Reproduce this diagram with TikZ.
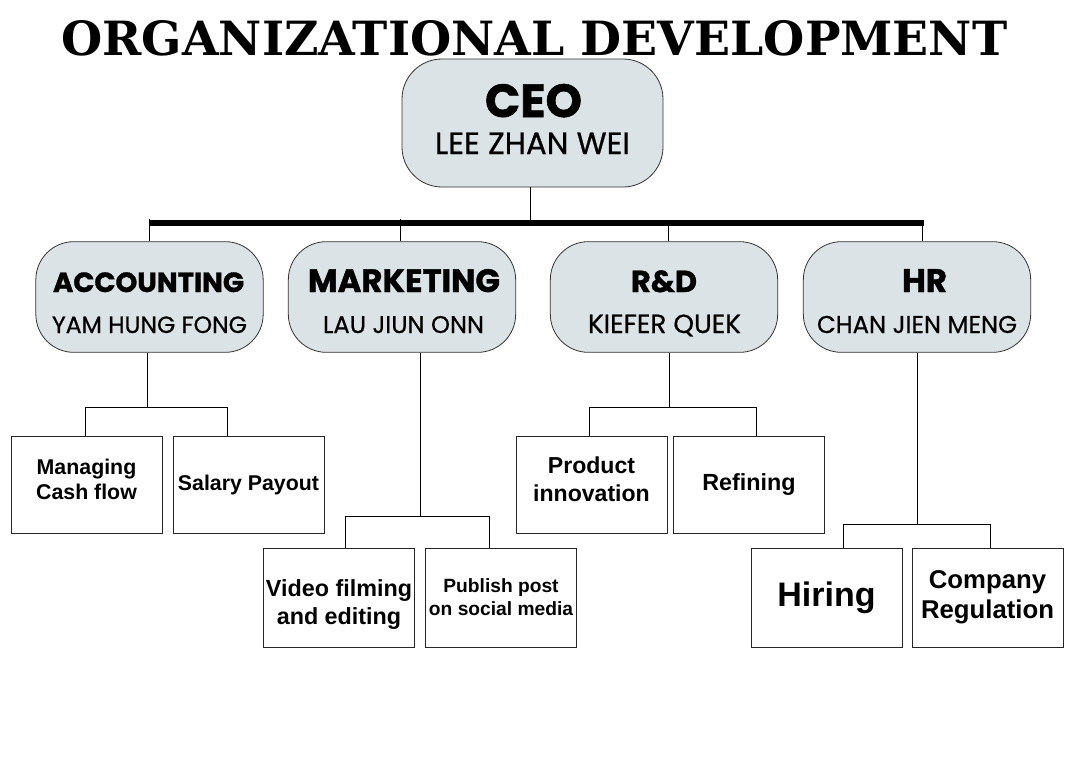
\documentclass[tikz,border=0pt]{standalone}
\usepackage{fontspec}
\usepackage{graphicx}
\newfontfamily\popfont[BoldFeatures={FakeBold=1.2}]{Poppins}
\newfontfamily\popmed[FakeBold=0.6]{Poppins}
\newfontfamily\subfont{Liberation Sans}
\newfontfamily\ttlfont{DejaVu Serif}
\definecolor{boxfill}{HTML}{DCE3E6}
\begin{document}
\begin{tikzpicture}[x=0.75pt,y=-0.75pt,
  head/.style={draw=black!80, line width=0.6pt, fill=boxfill, rounded corners=28.5pt,
    minimum width=170.5pt, minimum height=83pt, inner sep=0pt},
  ceobox/.style={head, minimum width=195.75pt, minimum height=96pt, rounded corners=30pt},
  task/.style={draw=black!85, line width=0.6pt, minimum width=113.25pt, minimum height=72.75pt,
    inner sep=0pt, align=center},
  task2/.style={task, minimum height=74.25pt},
  txt/.style={inner sep=0pt, anchor=base},
  link/.style={line width=0.75pt, black}]
\useasboundingbox (0,0) rectangle (1080,771);
\fill[white] (0,0) rectangle (1080,771);

% title
\node[inner sep=0pt, anchor=base west] (title) at (61,55)
  {\resizebox{709.5pt}{26.25pt}{\ttlfont\bfseries ORGANIZATIONAL DEVELOPMENT}};

% CEO
\node[ceobox] (ceo) at (532.5,123) {};
\node[txt] (ceot) at (533.5,117) {\resizebox{72.75pt}{!}{\popfont\bfseries CEO}};
\node[txt] (ceon) at (532.5,154) {\resizebox{146.25pt}{!}{\popmed LEE ZHAN WEI}};

% departments
\node[head] (acc) at (149.5,297) {};
\node[txt] (acct) at (148.5,292) {\resizebox{143.25pt}{!}{\popfont\bfseries ACCOUNTING}};
\node[txt] (accn) at (149.5,333) {\resizebox{146.25pt}{!}{\popmed YAM HUNG FONG}};

\node[head] (mkt) at (402,297) {};
\node[txt] (mktt) at (404,292) {\resizebox{144pt}{!}{\popfont\bfseries MARKETING}};
\node[txt] (mktn) at (403.5,333) {\resizebox{120.75pt}{!}{\popmed LAU JIUN ONN}};

\node[head] (rd) at (664,297) {};
\node[txt] (rdt) at (664,292) {\resizebox{49.5pt}{!}{\popfont\bfseries R\&D}};
\node[txt] (rdn) at (664.5,333) {\resizebox{114.75pt}{!}{\popmed KIEFER QUEK}};

\node[head] (hr) at (917,297) {};
\node[txt] (hrt) at (924.5,292) {\resizebox{33.75pt}{!}{\popfont\bfseries HR}};
\node[txt] (hrn) at (917,333) {\resizebox{150pt}{!}{\popmed CHAN JIEN MENG}};

% bar and top links
\coordinate (barL) at (149,223);
\coordinate (barR) at (924,223);
\draw[line width=4.5pt] (barL) -- (barR);
\coordinate (ceoJ) at (530,220);
\draw[link] (ceoJ |- ceo.south) -- (ceoJ);
\coordinate (accT) at (149,219);
\coordinate (mktT) at (400,219);
\coordinate (rdT) at (668,222);
\coordinate (hrT) at (922,222);
\draw[link] (accT) -- (accT |- acc.north);
\draw[link] (mktT) -- (mktT |- mkt.north);
\draw[link] (rdT) -- (rdT |- rd.north);
\draw[link] (hrT) -- (hrT |- hr.north);

% task boxes
\node[task, font=\subfont\bfseries\fontsize{16}{18.75}\selectfont] (mcf) at (86.5,484.5)
  {Managing\\Cash flow\vphantom{g}\\[-16.5pt]\strut};
\node[task, font=\subfont\bfseries\fontsize{16}{18}\selectfont] (sal) at (248.5,484.5)
  {Salary Payout};
\node[task, font=\subfont\bfseries\fontsize{17.3}{21}\selectfont] (pin) at (591.5,484.5)
  {Product\\innovation\\[-19pt]\strut};
\node[task, font=\subfont\bfseries\fontsize{17.5}{21}\selectfont] (ref) at (749,484.5)
  {Refining};
\node[task2, font=\subfont\bfseries\fontsize{17.5}{21}\selectfont] (vid) at (339,597.5)
  {\strut\\[-12pt]Video filming\\and editing};
\node[task2, font=\subfont\bfseries\fontsize{14.4}{17.25}\selectfont] (pub) at (501,597.5)
  {Publish post\\on social media};
\node[task2, font=\subfont\bfseries\fontsize{25.5}{30}\selectfont] (hir) at (826.5,597.5)
  {Hiring};
\node[task2, font=\subfont\bfseries\fontsize{19.3}{22.5}\selectfont] (com) at (987.5,597.5)
  {Company\\Regulation};

% accounting links
\coordinate (accJ) at (147,407);
\coordinate (accL) at (85,407);
\coordinate (accR) at (227,407);
\draw[link] (accJ |- acc.south) -- (accJ);
\draw[link] (accL) -- (accR);
\draw[link] (accL) -- (accL |- mcf.north);
\draw[link] (accR) -- (accR |- sal.north);

% marketing links
\coordinate (mktJ) at (420,516);
\coordinate (mktL) at (345,516);
\coordinate (mktR) at (489,516);
\draw[link] (mktJ |- mkt.south) -- (mktJ);
\draw[link] (mktL) -- (mktR);
\draw[link] (mktL) -- (mktL |- vid.north);
\draw[link] (mktR) -- (mktR |- pub.north);

% R&D links
\coordinate (rdJ) at (669,407);
\coordinate (rdL) at (589,407);
\coordinate (rdR) at (756,407);
\draw[link] (rdJ |- rd.south) -- (rdJ);
\draw[link] (rdL) -- (rdR);
\draw[link] (rdL) -- (rdL |- pin.north);
\draw[link] (rdR) -- (rdR |- ref.north);

% HR links
\coordinate (hrJ) at (917,524);
\coordinate (hrL) at (843,524);
\coordinate (hrR) at (990,524);
\draw[link] (hrJ |- hr.south) -- (hrJ);
\draw[link] (hrL) -- (hrR);
\draw[link] (hrL) -- (hrL |- hir.north);
\draw[link] (hrR) -- (hrR |- com.north);
\end{tikzpicture}
\end{document}
